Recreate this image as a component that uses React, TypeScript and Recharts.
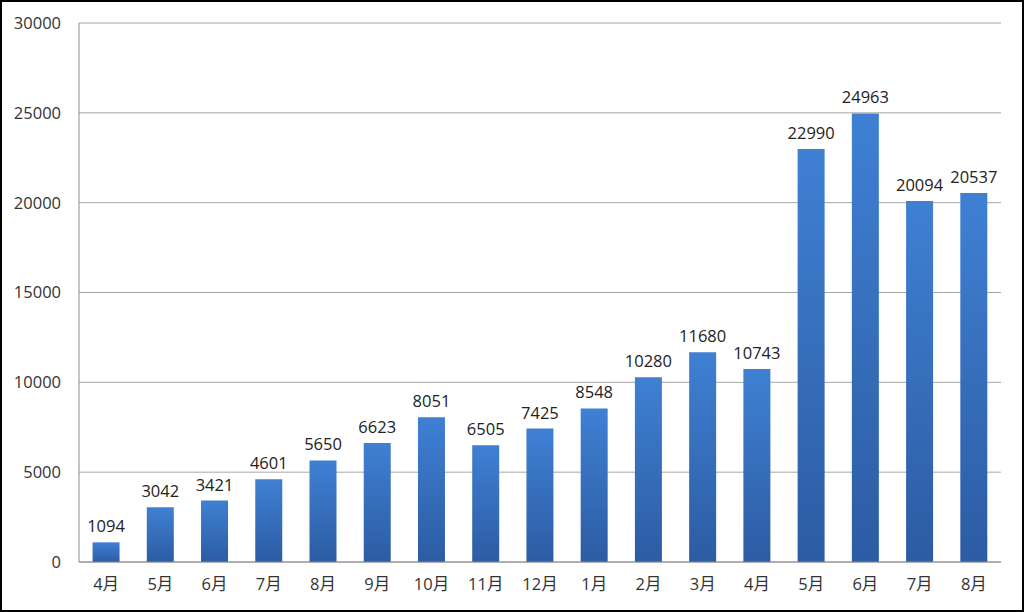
import { Bar, BarChart, CartesianGrid, LabelList, XAxis, YAxis } from 'recharts';

const months = ['4月', '5月', '6月', '7月', '8月', '9月', '10月', '11月', '12月', '1月', '2月', '3月', '4月', '5月', '6月', '7月', '8月'];
const values = [1094, 3042, 3421, 4601, 5650, 6623, 8051, 6505, 7425, 8548, 10280, 11680, 10743, 22990, 24963, 20094, 20537];
const yTicks = [0, 5000, 10000, 15000, 20000, 25000, 30000];

const data = months.map((m, i) => ({ key: i, month: m, value: values[i] }));

const font = '"Open Sans", "Noto Sans CJK SC", sans-serif';

function App() {
    return (
        <div
            style={{
                position: 'absolute',
                left: 0,
                top: 0,
                width: 1024,
                height: 612,
                border: '2px solid #000',
                boxSizing: 'border-box',
                background: '#fff',
                fontFamily: font,
            }}
        >
            <BarChart
                width={1020}
                height={608}
                data={data}
                margin={{ top: 21, right: 21, bottom: 0, left: 0 }}
                barCategoryGap="25%"
            >
                <defs>
                    <linearGradient id="barFill" x1="0" y1="0" x2="0" y2="1">
                        <stop offset="0%" stopColor="#3f80d3" />
                        <stop offset="100%" stopColor="#2c5ca3" />
                    </linearGradient>
                </defs>
                <CartesianGrid vertical={false} stroke="#a6a6a6" />
                <XAxis
                    dataKey="key"
                    tickFormatter={(i: number) => months[i]}
                    tickLine={false}
                    axisLine={{ stroke: '#8c8c8c' }}
                    tick={{ fill: '#333', fontSize: 16.5, fontFamily: font }}
                    tickMargin={10}
                    height={48}
                />
                <YAxis
                    domain={[0, 30000]}
                    ticks={yTicks}
                    interval={0}
                    tickLine={false}
                    axisLine={{ stroke: '#8c8c8c' }}
                    tick={{ fill: '#333', fontSize: 16.5, fontFamily: font }}
                    tickMargin={12}
                    width={77}
                />
                <Bar dataKey="value" fill="url(#barFill)" isAnimationActive={false}>
                    <LabelList dataKey="value" position="top" offset={10} fill="#222" fontSize={16.5} fontFamily={font} />
                </Bar>
            </BarChart>
        </div>
    );
}

export default App;
